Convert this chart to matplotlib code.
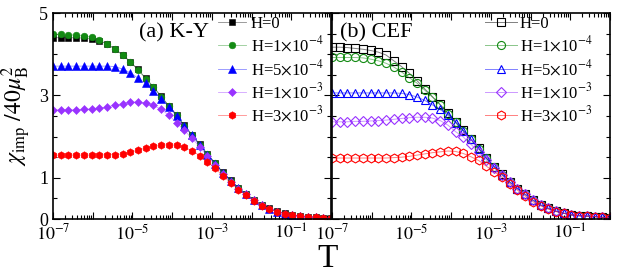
import numpy as np
import matplotlib
matplotlib.use('Agg')
import matplotlib.pyplot as plt
from matplotlib.colors import to_rgba
from matplotlib.ticker import LogLocator, NullFormatter, MultipleLocator, FixedLocator

plt.rcParams['font.family'] = ['Liberation Serif', 'DejaVu Serif']
plt.rcParams['mathtext.fontset'] = 'stix'

# temperature grid (log10 T)
logT = [-7.000, -6.806, -6.611, -6.417, -6.222, -6.028, -5.833, -5.639, -5.444, -5.250,
        -5.056, -4.861, -4.667, -4.472, -4.278, -4.083, -3.889, -3.694, -3.500, -3.306,
        -3.111, -2.917, -2.722, -2.528, -2.333, -2.139, -1.944, -1.750, -1.556, -1.361,
        -1.167, -0.972, -0.778, -0.583, -0.389, -0.194, 0.000]

labels = [r'H=0', r'H=1$\times$10$^{-4}$', r'H=5$\times$10$^{-4}$',
          r'H=1$\times$10$^{-3}$', r'H=3$\times$10$^{-3}$']

# (a) K-Y
ky_H0 = [4.40, 4.40, 4.40, 4.40, 4.39, 4.37, 4.32, 4.25, 4.13, 3.99, 3.82, 3.63, 3.42, 3.21, 2.98,
         2.75, 2.53, 2.27, 2.05, 1.81, 1.58, 1.36, 1.13, 0.94, 0.76, 0.61, 0.47, 0.35, 0.26, 0.19,
         0.14, 0.10, 0.07, 0.06, 0.04, 0.03, 0.02]
ky_H1e4 = [4.49, 4.48, 4.47, 4.47, 4.45, 4.41, 4.34, 4.25, 4.12, 3.98, 3.81, 3.62, 3.41, 3.20, 2.97,
           2.74, 2.52, 2.26, 2.04, 1.80, 1.57, 1.35, 1.12, 0.93, 0.75, 0.61, 0.46, 0.34, 0.25, 0.18,
           0.13, 0.10, 0.07, 0.06, 0.04, 0.03, 0.02]
ky_H5e4 = [3.71, 3.71, 3.71, 3.71, 3.71, 3.71, 3.71, 3.71, 3.70, 3.64, 3.55, 3.42, 3.29, 3.11, 2.92,
           2.73, 2.50, 2.25, 2.03, 1.79, 1.56, 1.34, 1.12, 0.93, 0.75, 0.60, 0.46, 0.34, 0.25, 0.18,
           0.13, 0.10, 0.07, 0.06, 0.04, 0.03, 0.02]
ky_H1e3 = [2.65, 2.65, 2.65, 2.65, 2.66, 2.67, 2.69, 2.72, 2.76, 2.80, 2.83, 2.84, 2.82, 2.76, 2.66,
           2.52, 2.34, 2.15, 1.96, 1.75, 1.52, 1.32, 1.09, 0.91, 0.74, 0.60, 0.46, 0.34, 0.25, 0.18,
           0.13, 0.10, 0.07, 0.06, 0.04, 0.03, 0.02]
ky_H3e3 = [1.55, 1.55, 1.55, 1.55, 1.55, 1.55, 1.55, 1.56, 1.56, 1.58, 1.62, 1.67, 1.72, 1.76, 1.79,
           1.80, 1.79, 1.74, 1.66, 1.54, 1.39, 1.23, 1.05, 0.88, 0.71, 0.58, 0.44, 0.32, 0.24, 0.18,
           0.13, 0.10, 0.07, 0.06, 0.04, 0.03, 0.02]

# (b) CEF
cef_H0 = [4.17, 4.17, 4.16, 4.14, 4.12, 4.09, 4.05, 3.98, 3.84, 3.70, 3.54, 3.36, 3.16, 2.97, 2.78,
          2.57, 2.36, 2.15, 1.94, 1.72, 1.48, 1.27, 1.09, 0.90, 0.74, 0.60, 0.46, 0.34, 0.26, 0.19,
          0.14, 0.10, 0.08, 0.07, 0.06, 0.04, 0.03]
cef_H1e4 = [3.92, 3.92, 3.92, 3.92, 3.91, 3.88, 3.84, 3.78, 3.69, 3.57, 3.43, 3.30, 3.13, 2.96, 2.77,
            2.56, 2.35, 2.14, 1.93, 1.71, 1.47, 1.27, 1.08, 0.90, 0.74, 0.60, 0.46, 0.34, 0.26, 0.19,
            0.14, 0.10, 0.08, 0.07, 0.06, 0.04, 0.03]
cef_H5e4 = [3.06, 3.06, 3.06, 3.06, 3.06, 3.06, 3.06, 3.06, 3.06, 3.05, 3.02, 2.96, 2.88, 2.77, 2.66,
            2.52, 2.34, 2.14, 1.93, 1.71, 1.47, 1.27, 1.08, 0.90, 0.74, 0.60, 0.46, 0.34, 0.26, 0.19,
            0.14, 0.10, 0.08, 0.07, 0.06, 0.04, 0.03]
cef_H1e3 = [2.36, 2.36, 2.36, 2.37, 2.37, 2.38, 2.39, 2.40, 2.42, 2.44, 2.46, 2.47, 2.47, 2.45, 2.39,
            2.28, 2.12, 1.99, 1.81, 1.63, 1.43, 1.25, 1.07, 0.89, 0.73, 0.60, 0.46, 0.34, 0.26, 0.19,
            0.14, 0.10, 0.08, 0.07, 0.06, 0.04, 0.03]
cef_H3e3 = [1.48, 1.48, 1.48, 1.48, 1.48, 1.48, 1.48, 1.48, 1.49, 1.50, 1.52, 1.55, 1.58, 1.61, 1.63,
            1.65, 1.64, 1.59, 1.51, 1.42, 1.28, 1.15, 1.02, 0.85, 0.70, 0.56, 0.42, 0.32, 0.24, 0.18,
            0.14, 0.10, 0.08, 0.07, 0.06, 0.04, 0.03]

colors = ['black', '#138a13', '#0000ff', '#9933ff', '#ff0000']
markers = ['s', 'o', '^', 'D', 'h']
msizes = [4.2, 4.8, 5.2, 4.4, 5.4]


def style_axis(ax):
	ax.set_xscale('log')
	ax.set_xlim(1e-7, 1.0)
	ax.set_ylim(0, 5)
	ax.xaxis.set_major_locator(FixedLocator([10.0**e for e in range(-7, 1)]))
	ax.xaxis.set_minor_locator(LogLocator(base=10, subs=np.arange(2, 10), numticks=20))
	ax.xaxis.set_minor_formatter(NullFormatter())
	ax.set_xticklabels([r'$10^{%d}$' % e if e % 2 else '' for e in range(-7, 1)])
	ax.yaxis.set_major_locator(FixedLocator([0, 1, 3, 5]))
	ax.yaxis.set_minor_locator(MultipleLocator(0.5))
	ax.tick_params(which='both', direction='in', top=True, right=True, labelsize=13, width=0.8)
	ax.tick_params(which='major', length=5)
	ax.tick_params(which='minor', length=3)
	for s in ax.spines.values():
		s.set_linewidth(1.2)


fig = plt.figure(figsize=(6.23, 2.75), dpi=100)
axa = fig.add_axes([53/623., 56/275., 278/623., 206/275.])
axb = fig.add_axes([332/623., 56/275., 278/623., 206/275.])

T = 10.0**np.array(logT)

#(a) filled symbols, faint connecting lines
ky = [ky_H0, ky_H1e4, ky_H5e4, ky_H1e3, ky_H3e3]
for y, c, m, ms, lab in zip(ky, colors, markers, msizes, labels):
	axa.plot(T, y, color=to_rgba(c, 0.45), linewidth=0.6, marker=m, markersize=ms,
		markerfacecolor=c, markeredgecolor=c, markeredgewidth=0.4, label=lab)

#(b) open symbols
cef = [cef_H0, cef_H1e4, cef_H5e4, cef_H1e3, cef_H3e3]
for y, c, m, ms, lab in zip(cef, colors, markers, msizes, labels):
	axb.plot(T, y, color=to_rgba(c, 0.5), linewidth=0.7, marker=m, markersize=ms + 1.0,
		markerfacecolor='none', markeredgecolor=c, markeredgewidth=0.8, label=lab)

style_axis(axa)
style_axis(axb)
axb.set_yticklabels([])

axa.text(0.31, 0.905, '(a) K-Y', transform=axa.transAxes, fontsize=16, va='center')
axb.text(0.03, 0.905, '(b) CEF', transform=axb.transAxes, fontsize=16, va='center')

axa.legend(loc='upper left', bbox_to_anchor=(0.594, 0.985), frameon=False, fontsize=12,
	handlelength=1.65, handletextpad=0.3, labelspacing=0.2, borderpad=0, borderaxespad=0)
axb.legend(loc='upper left', bbox_to_anchor=(0.55, 0.985), frameon=False, fontsize=12,
	handlelength=1.9, handletextpad=0.2, labelspacing=0.2, borderpad=0, borderaxespad=0)

axa.set_ylabel(r'$\chi_{\rm imp}\ /40\mu_{\rm B}^2$', fontsize=17, labelpad=4)
fig.text(0.525, 0.005, 'T', fontsize=24, ha='center', va='bottom')

plt.savefig('out.png', dpi=100)
